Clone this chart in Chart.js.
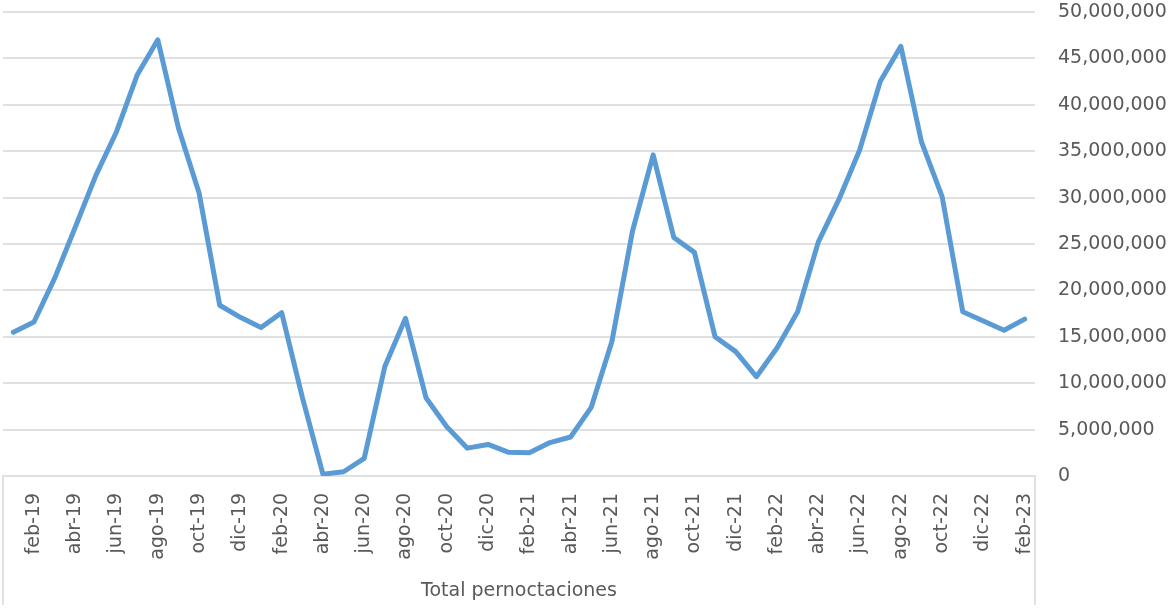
<!DOCTYPE html>
<html>
<head>
<meta charset="utf-8">
<script src="https://cdn.jsdelivr.net/npm/chart.js@4.4.1/dist/chart.umd.min.js"></script>
<style>
  html, body { margin: 0; padding: 0; background: #ffffff; }
  #wrap { width: 1169px; height: 608px; position: relative; }
</style>
</head>
<body>
<div id="wrap"><canvas id="c" width="1169" height="608"></canvas></div>
<script>
// Monthly categories, ene-19 .. feb-23
const months = [
  'ene-19','feb-19','mar-19','abr-19','may-19','jun-19','jul-19','ago-19','sep-19','oct-19','nov-19','dic-19',
  'ene-20','feb-20','mar-20','abr-20','may-20','jun-20','jul-20','ago-20','sep-20','oct-20','nov-20','dic-20',
  'ene-21','feb-21','mar-21','abr-21','may-21','jun-21','jul-21','ago-21','sep-21','oct-21','nov-21','dic-21',
  'ene-22','feb-22','mar-22','abr-22','may-22','jun-22','jul-22','ago-22','sep-22','oct-22','nov-22','dic-22',
  'ene-23','feb-23'
];

// Total pernoctaciones per month
const pernoctaciones = [
  15500000, 16600000, 21300000, 26800000, 32400000, 37100000, 43200000, 47000000, 37500000, 30500000, 18400000, 17100000,
  16000000, 17600000, 8500000, 200000, 460000, 1900000, 11800000, 17000000, 8400000, 5300000, 3000000, 3400000,
  2550000, 2500000, 3600000, 4200000, 7400000, 14500000, 26400000, 34600000, 25700000, 24100000, 15000000, 13400000,
  10700000, 13800000, 17700000, 25200000, 29800000, 35100000, 42500000, 46300000, 36000000, 30100000, 17700000, 16700000,
  15700000, 16900000
];

const yTicksMax = 50000000;
const yTickStep = 5000000;

const seriesName = 'Total pernoctaciones';

const textColor = '#595959';
const lineGray = '#e0e0e0';
const fontFamily = '"DejaVu Sans", sans-serif';

// Outer edge lines of the category axis band
const edgeLines = {
  id: 'edgeLines',
  afterDraw(chart) {
    const { ctx, chartArea } = chart;
    ctx.save();
    ctx.strokeStyle = lineGray;
    ctx.lineWidth = 2;
    ctx.beginPath();
    ctx.moveTo(chartArea.left, chartArea.bottom);
    ctx.lineTo(chartArea.left, chart.height - 3);
    ctx.moveTo(chartArea.right, chartArea.bottom);
    ctx.lineTo(chartArea.right, chart.height - 3);
    ctx.stroke();
    ctx.restore();
  }
};

function noScalePadding(scale) {
  scale.paddingTop = 0;
  scale.paddingBottom = 0;
  scale.paddingLeft = 0;
  scale.paddingRight = 0;
}

new Chart(document.getElementById('c'), {
  type: 'line',
  data: {
    labels: months,
    datasets: [{
      label: seriesName,
      data: pernoctaciones,
      borderColor: '#5b9bd5',
      borderWidth: 5,
      pointRadius: 0,
      tension: 0,
      fill: false,
      borderJoinStyle: 'round',
      borderCapStyle: 'round'
    }]
  },
  options: {
    responsive: false,
    animation: false,
    layout: { padding: { left: 3, top: 12, right: 0, bottom: 0 } },
    plugins: {
      legend: { display: false },
      tooltip: { enabled: false }
    },
    scales: {
      x: {
        type: 'category',
        offset: true,
        grid: { display: false },
        border: { display: true, color: lineGray, width: 2 },
        ticks: {
          autoSkip: false,
          minRotation: 90,
          maxRotation: 90,
          padding: 9,
          color: textColor,
          font: { family: fontFamily, size: 19 },
          callback: function (value, index) {
            return index % 2 === 1 ? this.getLabelForValue(value) : '';
          }
        },
        title: {
          display: true,
          text: seriesName,
          color: textColor,
          font: { family: fontFamily, size: 19 },
          padding: { top: 0, bottom: 6 }
        },
        afterFit(scale) { noScalePadding(scale); scale.height = 132; }
      },
      y: {
        position: 'right',
        min: 0,
        max: yTicksMax,
        grid: { color: lineGray, lineWidth: 2, drawTicks: false },
        border: { display: false },
        ticks: {
          stepSize: yTickStep,
          padding: 23,
          color: textColor,
          font: { family: fontFamily, size: 19 },
          callback: (v) => v.toLocaleString('en-US')
        },
        afterFit(scale) { noScalePadding(scale); scale.width = 134; }
      }
    }
  },
  plugins: [edgeLines]
});
</script>
</body>
</html>
